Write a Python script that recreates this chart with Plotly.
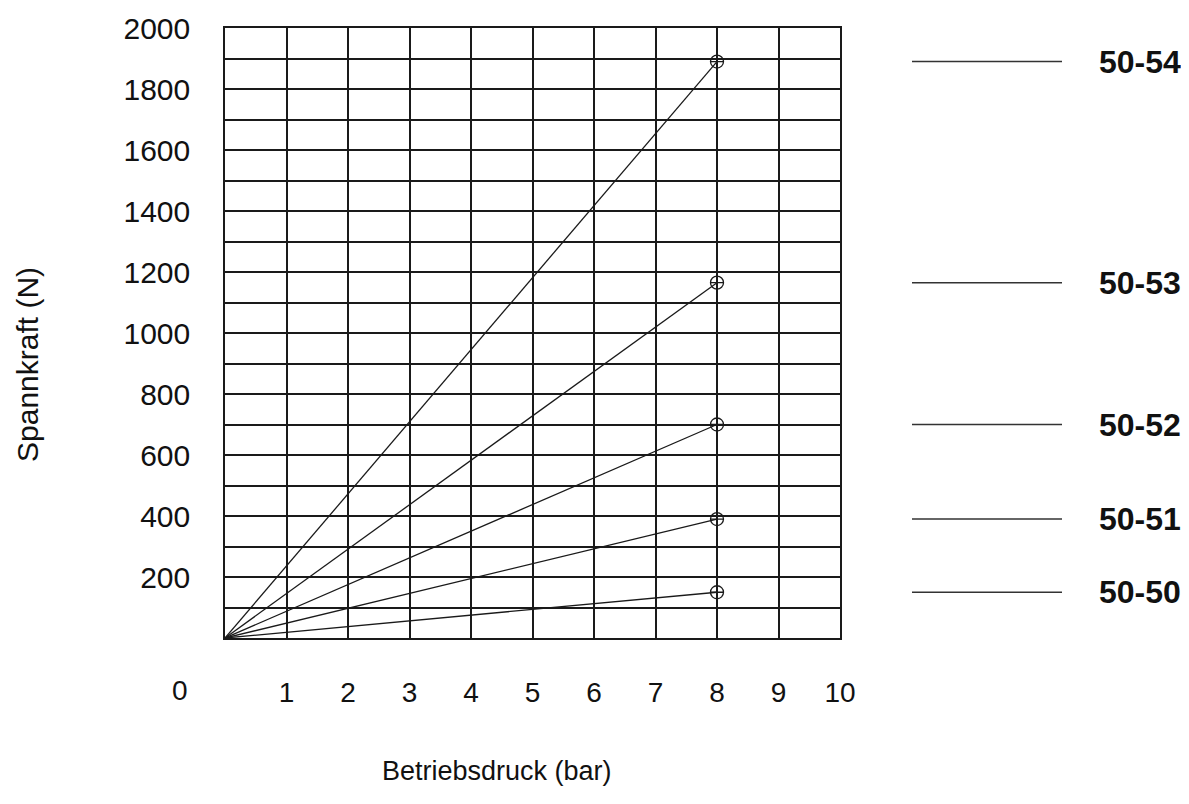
import plotly.graph_objects as go

# Data
series_names = ["50-50", "50-51", "50-52", "50-53", "50-54"]
pressure = [0, 8]  # bar
force_end = [150, 390, 700, 1165, 1890]  # N at 8 bar
y_tick_vals = [200, 400, 600, 800, 1000, 1200, 1400, 1600, 1800, 2000]
x_tick_vals = [1, 2, 3, 4, 5, 6, 7, 8, 9, 10]

FONT = "Liberation Sans, Arial, sans-serif"
INK = "#1a1a1a"

# page body has an 8px margin; figure is sized/offset to compensate
L, R, T, B = 217, 349, 20, 166
W, H = 1181, 796
PW = W - L - R   # 615
PH = H - T - B   # 610
OX, OY = 8 + L, 8 + T  # plot origin in screen pixels (top-left)


def px_x(px):
    return (px - OX) / PW


def px_y(py):
    return (OY + PH - py) / PH


fig = go.Figure()
for name, fe in zip(series_names, force_end):
    fig.add_trace(go.Scatter(
        x=pressure, y=[0, fe], mode="lines", name=name,
        line=dict(color=INK, width=1.3), showlegend=False, hoverinfo="skip"))
    fig.add_trace(go.Scatter(
        x=[pressure[-1]], y=[fe], mode="markers", name=name,
        marker=dict(symbol="circle-cross-open", size=13,
                    color=INK, line=dict(color=INK, width=1.3)),
        showlegend=False))

# Right-side labels: line + bold text at each series end value
for name, fe in zip(series_names, force_end):
    fig.add_shape(type="line", xref="paper", yref="y",
                  x0=px_x(912), x1=px_x(1062), y0=fe, y1=fe,
                  line=dict(color="#333333", width=1.5))
    fig.add_annotation(xref="paper", yref="y", x=px_x(1097), y=fe,
                       text="<b>%s</b>" % name, showarrow=False,
                       xanchor="left", yanchor="middle",
                       font=dict(family=FONT, size=32, color="#111111"))

# Shared origin "0" label
fig.add_annotation(xref="paper", yref="paper", x=px_x(180), y=px_y(690),
                   text="0", showarrow=False, xanchor="center", yanchor="middle",
                   font=dict(family=FONT, size=28, color="#111111"))

# Axis titles
fig.add_annotation(xref="paper", yref="paper", x=px_x(497), y=px_y(771),
                   text="Betriebsdruck (bar)", showarrow=False,
                   xanchor="center", yanchor="middle",
                   font=dict(family=FONT, size=27, color="#111111"))
fig.add_annotation(xref="paper", yref="paper", x=px_x(27), y=px_y(365),
                   text="Spannkraft (N)", showarrow=False, textangle=-90,
                   xanchor="center", yanchor="middle",
                   font=dict(family=FONT, size=30, color="#111111"))

fig.update_xaxes(range=[0, 10], tickvals=x_tick_vals,
                 showgrid=True, gridcolor=INK, gridwidth=1.5,
                 showline=True, linecolor=INK, linewidth=1.5, mirror=True,
                 ticks="outside", ticklen=0, ticklabelstandoff=29,
                 tickfont=dict(family=FONT, size=28, color="#111111"),
                 zeroline=False, fixedrange=True, automargin=False)
fig.update_yaxes(range=[0, 2000], tickvals=y_tick_vals,
                 showgrid=True, gridcolor=INK, gridwidth=1.5,
                 minor=dict(dtick=100, tick0=0, showgrid=True, gridcolor=INK, gridwidth=1.5),
                 showline=True, linecolor=INK, linewidth=1.5, mirror=True,
                 ticks="outside", ticklen=0, ticklabelstandoff=27,
                 tickfont=dict(family=FONT, size=30, color="#111111"),
                 zeroline=False, fixedrange=True, automargin=False)

fig.update_layout(
    width=W, height=H,
    margin=dict(l=L, r=R, t=T, b=B, autoexpand=False),
    plot_bgcolor="white", paper_bgcolor="white",
    font=dict(family=FONT, color="#111111"),
)

fig.write_html("out.html")
